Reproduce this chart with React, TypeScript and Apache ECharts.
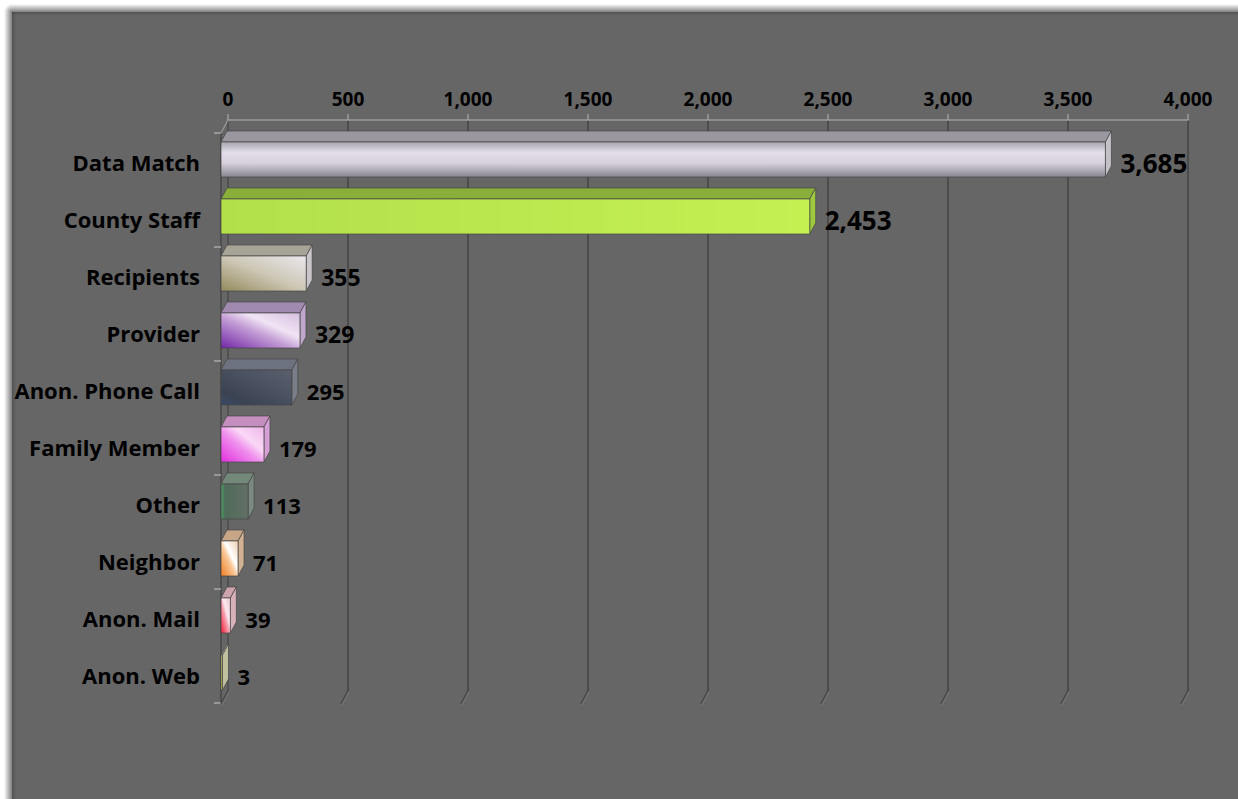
import React, { useEffect, useRef } from "react";
import * as echarts from "echarts";

const categories = [
  "Data Match",
  "County Staff",
  "Recipients",
  "Provider",
  "Anon. Phone Call",
  "Family Member",
  "Other",
  "Neighbor",
  "Anon. Mail",
  "Anon. Web",
];
const values = [3685, 2453, 355, 329, 295, 179, 113, 71, 39, 3];
const xTicks = [0, 500, 1000, 1500, 2000, 2500, 3000, 3500, 4000];

// styles (not data)
const labelSizes = [26, 26, 23, 23, 22, 22, 22, 22, 22, 22];
type BarStyle = { dir: number[]; stops: [number, string][]; top: string; side: string };
const barStyles: BarStyle[] = [
  { dir: [0, 0, 0, 1], stops: [[0, "#a9a5af"], [0.3, "#e2dde8"], [0.6, "#d6d1dc"], [1, "#8a8690"]], top: "#9b97a1", side: "#c4c0c8" },
  { dir: [0, 0, 1, 0], stops: [[0, "#b2e04a"], [1, "#c4f052"]], top: "#8aae3a", side: "#9ec83f" },
  { dir: [0, 1, 1, 0], stops: [[0, "#938a5c"], [0.5, "#cdc7b5"], [1, "#ebe7ee"]], top: "#a7a396", side: "#c9c5c8" },
  { dir: [0, 1, 1, 0], stops: [[0, "#7226a6"], [0.45, "#c49ed6"], [0.65, "#f0e4f4"], [1, "#d6bfe0"]], top: "#a18aaf", side: "#bfa7cb" },
  { dir: [0, 1, 1, 0], stops: [[0, "#384a68"], [0.2, "#3b4352"], [1, "#5a606e"]], top: "#6d7280", side: "#7a7e88" },
  { dir: [0, 1, 1, 0], stops: [[0, "#e02edc"], [0.45, "#f090ee"], [0.65, "#fad8f6"], [1, "#eeb6ea"]], top: "#c48fbf", side: "#d6a0d6" },
  { dir: [0, 0, 1, 0], stops: [[0, "#4a9c62"], [0.15, "#4f6b59"], [1, "#627066"]], top: "#74887a", side: "#7b8a80" },
  { dir: [0, 1, 1, 0], stops: [[0, "#f07c1e"], [0.45, "#f8c898"], [0.6, "#ffffff"], [1, "#f0d0b0"]], top: "#c6a686", side: "#d2b292" },
  { dir: [0, 1, 1, 0], stops: [[0, "#f01830"], [0.45, "#f6a0b0"], [0.6, "#fae8ee"], [1, "#f0c8d0"]], top: "#cfa3ab", side: "#d8b0b8" },
  { dir: [0, 1, 1, 0], stops: [[0, "#c8bf2e"], [1, "#d6d6a0"]], top: "#b8b8a8", side: "#c0c0a0" },
];

const FONT = "'Open Sans', 'Noto Sans', sans-serif";

export default function App() {
  const ref = useRef<HTMLDivElement>(null);
  useEffect(() => {
    document.body.style.margin = "0";
    document.documentElement.style.overflow = "hidden";
    document.body.style.overflow = "hidden";
    if (!ref.current) return;
    const chart = echarts.init(ref.current, null, { renderer: "svg", width: 1238, height: 799 });
    const dx = 6;
    const dy = 11;
    const shadeV = new echarts.graphic.LinearGradient(0, 0, 0, 1, [
      { offset: 0, color: "rgba(0,0,0,0)" },
      { offset: 1, color: "rgba(0,0,0,0.5)" },
    ]);
    const shadeH = new echarts.graphic.LinearGradient(0, 0, 1, 0, [
      { offset: 0, color: "rgba(0,0,0,0)" },
      { offset: 1, color: "rgba(0,0,0,0.5)" },
    ]);
    const shadeC = new echarts.graphic.RadialGradient(1, 1, 1, [
      { offset: 0, color: "rgba(0,0,0,0.5)" },
      { offset: 1, color: "rgba(0,0,0,0)" },
    ]);
    chart.setOption({
      animation: false,
      backgroundColor: "#ffffff",
      graphic: [
        { type: "rect", z: -10, silent: true, shape: { x: 12, y: 4, width: 1230, height: 8 }, style: { fill: shadeV } },
        { type: "rect", z: -10, silent: true, shape: { x: 4, y: 12, width: 8, height: 790 }, style: { fill: shadeH } },
        { type: "rect", z: -10, silent: true, shape: { x: 4, y: 4, width: 8, height: 8 }, style: { fill: shadeC } },
        { type: "rect", z: -10, silent: true, shape: { x: 12, y: 12, width: 1230, height: 790 }, style: { fill: "#666666" } },
        {
          type: "rect",
          z: -9,
          silent: true,
          shape: { x: 12, y: 12, width: 1230, height: 4 },
          style: {
            fill: new echarts.graphic.LinearGradient(0, 0, 0, 1, [
              { offset: 0, color: "rgba(0,0,0,0.18)" },
              { offset: 1, color: "rgba(0,0,0,0)" },
            ]),
          },
        },
        {
          type: "rect",
          z: -9,
          silent: true,
          shape: { x: 12, y: 12, width: 4, height: 790 },
          style: {
            fill: new echarts.graphic.LinearGradient(0, 0, 1, 0, [
              { offset: 0, color: "rgba(0,0,0,0.18)" },
              { offset: 1, color: "rgba(0,0,0,0)" },
            ]),
          },
        },
      ],
      grid: [
        { left: 228, top: 120, width: 960, height: 571 },
        { left: 221, top: 133, width: 960, height: 570 },
      ],
      xAxis: [
        {
          gridIndex: 0,
          type: "value",
          position: "top",
          min: 0,
          max: 4000,
          interval: 500,
          axisLine: { show: true, lineStyle: { color: "#9c9c9c", width: 1.5 } },
          axisTick: { show: true, length: 6, lineStyle: { color: "#9c9c9c", width: 1.5 } },
          axisLabel: {
            margin: 12,
            color: "#000",
            fontFamily: FONT,
            fontWeight: "bold",
            fontSize: 19,
            formatter: (v: number) => v.toLocaleString("en-US"),
          },
          splitLine: { show: true, lineStyle: { color: "#4a4a4a", width: 1.8 } },
        },
        {
          gridIndex: 1,
          type: "value",
          min: 0,
          max: 4000,
          interval: 500,
          show: false,
        },
      ],
      yAxis: [
        {
          gridIndex: 0,
          type: "category",
          inverse: true,
          data: categories,
          axisLine: { show: true, lineStyle: { color: "#555555", width: 1.5 } },
          axisTick: { show: false },
          axisLabel: { show: false },
          splitLine: { show: false },
        },
        {
          gridIndex: 1,
          type: "category",
          inverse: true,
          data: categories,
          axisLine: { show: true, lineStyle: { color: "#4e4e4e", width: 2 } },
          axisTick: { show: true, interval: 1, length: 7, lineStyle: { color: "#a8a8a8", width: 1.5 } },
          axisLabel: {
            margin: 21,
            color: "#000",
            fontFamily: FONT,
            fontWeight: "bold",
            fontSize: 22,
          },
          splitLine: { show: false },
        },
      ],
      series: [
        {
          type: "custom",
          name: "floor",
          xAxisIndex: 0,
          yAxisIndex: 0,
          silent: true,
          z: 1,
          data: xTicks.map((v) => [v, categories.length - 1]),
          encode: { x: 0, y: 1 },
          renderItem: (params: any, api: any) => {
            const v = api.value(0);
            const p = api.coord([v, categories.length - 1]);
            const band = api.size([0, 1])[1];
            const yb = p[1] + band / 2;
            const children: any[] = [
              {
                type: "line",
                shape: { x1: p[0], y1: yb, x2: p[0] - 7, y2: yb + 13 },
                style: { stroke: "#4a4a4a", lineWidth: 1.8 },
              },
              {
                type: "line",
                shape: { x1: p[0] + 0.8, y1: yb + 1, x2: p[0] - 6.2, y2: yb + 14 },
                style: { stroke: "rgba(180,180,180,0.45)", lineWidth: 0.8 },
              },
            ];
            if (params.dataIndex === 0) {
              const pt = api.coord([0, 0]);
              const yt = pt[1] - band / 2;
              children.push({
                type: "line",
                shape: { x1: pt[0], y1: yt, x2: pt[0] - 7, y2: yt + 13 },
                style: { stroke: "#9c9c9c", lineWidth: 1.2 },
              });
            }
            return { type: "group", children };
          },
        },
        {
          type: "custom",
          name: "bars",
          xAxisIndex: 1,
          yAxisIndex: 1,
          z: 5,
          data: values.map((v, i) => [v, i]),
          encode: { x: 0, y: 1 },
          renderItem: (params: any, api: any) => {
            const i = params.dataIndex;
            const v = api.value(0);
            const p1 = api.coord([v, i]);
            const p0 = api.coord([0, i]);
            const band = api.size([0, 1])[1];
            const h = band * 0.615;
            const top = p1[1] - 2 - h / 2;
            const bottom = top + h;
            const x0 = p0[0];
            const x1 = Math.max(p1[0], x0 + 1.5);
            const st = barStyles[i];
            const grad = new echarts.graphic.LinearGradient(
              st.dir[0], st.dir[1], st.dir[2], st.dir[3],
              st.stops.map(([o, c]) => ({ offset: o, color: c }))
            );
            return {
              type: "group",
              children: [
                {
                  type: "polygon",
                  shape: { points: [[x0, top], [x1, top], [x1 + dx, top - dy], [x0 + dx, top - dy]] },
                  style: { fill: st.top, stroke: "rgba(70,70,70,0.7)", lineWidth: 1 },
                },
                {
                  type: "polygon",
                  shape: { points: [[x1, top], [x1 + dx, top - dy], [x1 + dx, bottom - dy], [x1, bottom]] },
                  style: { fill: st.side, stroke: "rgba(70,70,70,0.7)", lineWidth: 1 },
                },
                {
                  type: "rect",
                  shape: { x: x0, y: top, width: x1 - x0, height: h },
                  style: { fill: grad, stroke: "rgba(70,70,70,0.7)", lineWidth: 1 },
                },
                {
                  type: "text",
                  style: {
                    text: v.toLocaleString("en-US"),
                    x: x1 + 15,
                    y: p1[1] + 1,
                    align: "left",
                    verticalAlign: "middle",
                    fontFamily: FONT,
                    fontWeight: "bold",
                    fontSize: labelSizes[i],
                    fill: "#000",
                  },
                },
              ],
            };
          },
        },
      ],
    });
    return () => chart.dispose();
  }, []);
  return (
    <div
      ref={ref}
      style={{ position: "fixed", left: 0, top: 0, width: 1238, height: 799, overflow: "hidden" }}
    />
  );
}
